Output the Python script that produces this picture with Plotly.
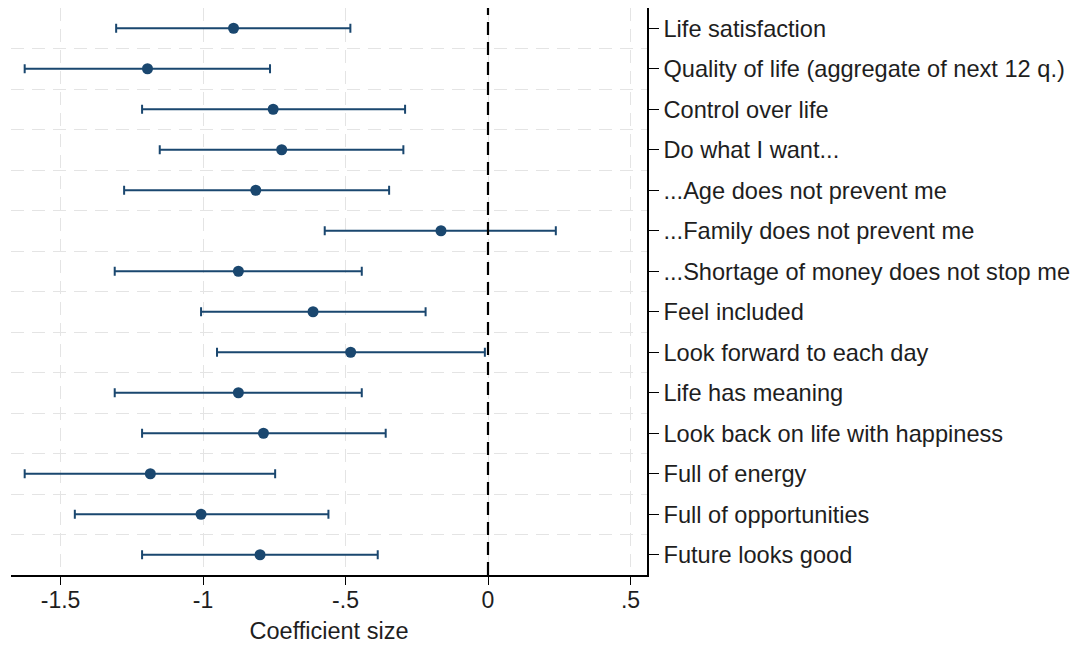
import plotly.graph_objects as go

categories = [
    "Life satisfaction",
    "Quality of life (aggregate of next 12 q.)",
    "Control over life",
    "Do what I want...",
    "...Age does not prevent me",
    "...Family does not prevent me",
    "...Shortage of money does not stop me",
    "Feel included",
    "Look forward to each day",
    "Life has meaning",
    "Look back on life with happiness",
    "Full of energy",
    "Full of opportunities",
    "Future looks good",
]
coef = [-0.893, -1.195, -0.754, -0.724, -0.815, -0.165, -0.876,
        -0.614, -0.482, -0.876, -0.788, -1.185, -1.007, -0.800]
ci_low = [-1.305, -1.626, -1.214, -1.152, -1.277, -0.573, -1.310,
          -1.007, -0.951, -1.310, -1.214, -1.626, -1.450, -1.214]
ci_high = [-0.483, -0.765, -0.291, -0.297, -0.347, 0.238, -0.443,
           -0.219, -0.011, -0.443, -0.359, -0.747, -0.560, -0.387]

x_tickvals = [-1.5, -1, -0.5, 0, 0.5]
x_ticktext = ["-1.5", "-1", "-.5", "0", ".5"]

NAVY = "#1a476f"
FONT = "Liberation Sans, Arial, Helvetica, sans-serif"

n = len(categories)
ypos = list(range(1, n + 1))
err_plus = [h - c for h, c in zip(ci_high, coef)]
err_minus = [c - l for c, l in zip(coef, ci_low)]

fig = go.Figure()
fig.add_trace(go.Scatter(
    x=coef, y=ypos, mode="markers",
    marker=dict(color=NAVY, size=11, line=dict(width=0)),
    error_x=dict(type="data", symmetric=False, array=err_plus,
                 arrayminus=err_minus, color=NAVY, thickness=2, width=4.5),
    showlegend=False, hoverinfo="x+y",
))

fig.add_vline(x=0, line=dict(color="black", width=2.2, dash="13px,7px"),
              layer="above")

fig.update_layout(
    width=1073, height=638,
    margin=dict(l=3, r=434, t=0, b=71, autoexpand=False),
    paper_bgcolor="white", plot_bgcolor="white",
    font=dict(family=FONT, size=23, color="#1e1e1e"),
    xaxis=dict(
        range=[-1.674, 0.558],
        tickvals=x_tickvals, ticktext=x_ticktext,
        ticks="outside", ticklen=8, tickwidth=1.3, tickcolor="black",
        ticklabelstandoff=-4,
        showline=True, linecolor="black", linewidth=1.5,
        showgrid=True, gridcolor="#e4e4e4", gridwidth=1.3,
        griddash="13px,8px",
        zeroline=False, automargin=False,
        title=dict(text="Coefficient size", standoff=10,
                   font=dict(family=FONT, size=23.5, color="#1e1e1e")),
    ),
    yaxis=dict(
        range=[n + 0.5, 0.5],
        side="right",
        tickvals=ypos, ticktext=categories,
        tickfont=dict(family=FONT, size=23.6, color="#1e1e1e"),
        ticks="outside", ticklen=10, tickwidth=1.3, tickcolor="black",
        showline=True, linecolor="black", linewidth=1.5,
        showgrid=False, zeroline=False, automargin=False,
        minor=dict(tickvals=[i + 0.5 for i in range(1, n)], ticks="",
                   showgrid=True, gridcolor="#e4e4e4", gridwidth=1.3,
                   griddash="13px,8px"),
    ),
)

fig.write_html("out.html")
